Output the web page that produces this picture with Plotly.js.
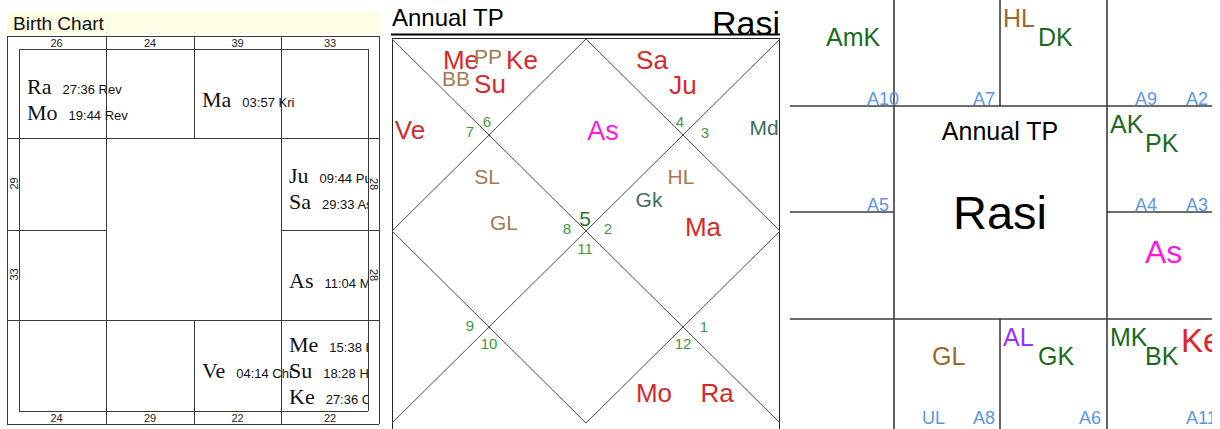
<!DOCTYPE html>
<html><head><meta charset="utf-8">
<script src="https://cdn.plot.ly/plotly-3.0.1.min.js"></script>
<style>html,body{margin:0;padding:0;background:#fff}#chart{width:1220px;height:429px}</style>
</head><body><div id="chart"></div>
<script>
// ================= DATA =================
// Birth chart (South Indian). Signs: 1 = Aries ... 12 = Pisces
const birthPlanets    = ['Ra','Mo','Ma','Ju','Sa','As','Me','Su','Ke','Ve'];
const birthDegrees    = ['27:36','19:44','03:57','09:44','29:33','11:04','15:38','18:28','27:36','04:14'];
const birthNakshatras = ['Rev','Rev','Kri','Pus','Asl','Mag','Has','Has','Chi','Chi'];
const birthSigns      = [12,12,2,4,4,5,6,6,6,7];
// Sarvashtakavarga points per sign (Aries..Pisces)
const savSigns  = [1,2,3,4,5,6,7,8,9,10,11,12];
const savPoints = [24,39,33,28,28,22,22,29,24,33,29,26];

// Annual TP Rasi (North Indian)
const rasiAscSign = 5;
const rasiLabels = ['Me','PP','Ke','BB','Su','Sa','Ju','Ve','As','Md','SL','GL','HL','Gk','Ma','Mo','Ra'];
const rasiSigns  = [6,6,6,6,6,4,4,7,5,3,8,8,2,2,2,12,12];
const rasiKinds  = ['planet','special','planet','special','planet','planet','planet','planet','asc','upagraha','special','special','special','upagraha','planet','planet','planet'];

// Annual TP Rasi (South Indian) – karakas, lagnas, arudhas
const karakaLabels = ['AmK','HL','DK','AK','PK','As','AL','GK','GL','MK','BK','Ke'];
const karakaSigns  = [12,2,2,4,4,5,7,7,8,6,6,6];
const karakaKinds  = ['karaka','special','karaka','karaka','karaka','asc','arudhaLagna','karaka','special','karaka','karaka','planet'];
const arudhaLabels = ['A10','A7','A9','A2','A5','A4','A3','UL','A8','A6','A11'];
const arudhaSigns  = [12,1,3,3,11,4,4,8,8,7,6];

// ================= LAYOUT / STYLE =================
const NARROW = "Liberation Sans, Arial, sans-serif";
const SANS   = "Liberation Sans, Arial, sans-serif";
const SERIF  = "Liberation Serif, Times New Roman, serif";
// South Indian cell (col,row) for each sign
const southCell = {12:[0,0],1:[1,0],2:[2,0],3:[3,0],4:[3,1],5:[3,2],6:[3,3],7:[2,3],8:[1,3],9:[0,3],10:[0,2],11:[0,1]};

const traces = [];
const annotations = [];
function lines(segs, color, width) {
  const x = [], y = [];
  segs.forEach(s => { x.push(s[0], s[2], null); y.push(s[1], s[3], null); });
  traces.push({type:'scatter', mode:'lines', x, y, xaxis:'x', yaxis:'y',
    line:{color, width}, hoverinfo:'skip', showlegend:false, cliponaxis:false});
}
function label(x, y, text, size, color, family, pos, xa) {
  traces.push({type:'scatter', mode:'text', x:[x], y:[y], text:[text],
    textposition: pos || 'middle center', textfont:{size, color, family},
    xaxis: xa || 'x', yaxis:'y', hoverinfo:'skip', showlegend:false, cliponaxis:true});
}
// y for a label whose cap-height centre should be at yc (plotly 'middle' puts baseline at y+0.25*fs)
const capY = (yc, fs) => yc + 0.11 * fs;

// ---------- Panel 1: Birth Chart ----------
const BX = [19,106,194,281,368], BY = [49,138,230,320,411];
const BO = {l:7, r:379, t:36, b:424};
traces.push({type:'scatter', mode:'lines', x:[7,380,380,7,7], y:[12,12,34,34,12], fill:'toself',
  fillcolor:'#fffde1', line:{width:0, color:'#fffde1'}, xaxis:'x', yaxis:'y', hoverinfo:'skip', showlegend:false});
label(13, capY(23.5, 19), 'Birth Chart', 19, '#111', SANS, 'middle right');
{
  const s = [];
  const h = v => v + 0.5;
  s.push([BO.l,h(BO.t),BO.r,h(BO.t)],[BO.l,h(BO.b),BO.r,h(BO.b)],[h(BO.l),BO.t,h(BO.l),BO.b],[h(BO.r),BO.t,h(BO.r),BO.b]);
  s.push([BX[0],h(BY[0]),BX[4],h(BY[0])],[BX[0],h(BY[4]),BX[4],h(BY[4])],[h(BX[0]),BY[0],h(BX[0]),BY[4]],[h(BX[4]),BY[0],h(BX[4]),BY[4]]);
  s.push([h(BX[1]),BO.t,h(BX[1]),BO.b],[h(BX[3]),BO.t,h(BX[3]),BO.b]);
  s.push([h(BX[2]),BO.t,h(BX[2]),BY[1]],[h(BX[2]),BY[3],h(BX[2]),BO.b]);
  s.push([BO.l,h(BY[1]),BO.r,h(BY[1])],[BO.l,h(BY[3]),BO.r,h(BY[3])]);
  s.push([BO.l,h(BY[2]),BX[1],h(BY[2])],[BX[3],h(BY[2]),BO.r,h(BY[2])]);
  lines(s, '#3a3a3a', 1);
}
// SAV numbers in the outer strip
savSigns.forEach((sg, k) => {
  const [c, r] = southCell[sg];
  const txt = String(savPoints[k]);
  if (r === 0 || r === 3) {
    const x0 = c === 0 ? BO.l : BX[c], x1 = c === 3 ? BO.r : BX[c+1];
    const y = r === 0 ? (BO.t + BY[0]) / 2 : (BY[4] + BO.b) / 2;
    label((x0 + x1) / 2, capY(y + 0.5, 11), txt, 11, '#222', SANS);
  } else {
    const y = (BY[r] + BY[r+1]) / 2;
    const left = c === 0;
    annotations.push({x: left ? (BO.l + BX[0]) / 2 + 0.5 : (BX[4] + BO.r) / 2 + 0.5, y, xref:'x', yref:'y',
      text: txt, showarrow:false, textangle: left ? -90 : 90,
      font:{size:11, color:'#222', family:SANS}, xanchor:'center', yanchor:'middle'});
  }
});
// planets
{
  const bySign = {};
  birthSigns.forEach((sg, k) => { (bySign[sg] = bySign[sg] || []).push(k); });
  Object.keys(bySign).forEach(sg => {
    const idx = bySign[sg], n = idx.length;
    const [c, r] = southCell[sg];
    idx.forEach((k, i) => {
      const base = BY[r] + 58 + (i - (n - 1) / 2) * 26;
      const txt = birthPlanets[k] + '\u00a0\u00a0' +
        "<span style='font-family:Liberation Sans, Arial, sans-serif;font-size:13px'>" +
        birthDegrees[k] + ' ' + birthNakshatras[k] + '</span>';
      label(BX[c] + 8, base - 0.25 * 22, txt, 22, '#111', SERIF, 'middle right', 'x2');
    });
  });
}

// ---------- Panel 2: Annual TP Rasi (North Indian) ----------
const ML = 392, MT = 39, MR = 780, MB = 423, MC = (ML + MR) / 2, MM = (MT + MB) / 2;
label(392, capY(17.5, 24), 'Annual TP', 24, '#000', NARROW, 'middle right');
label(780, capY(22.5, 34), 'Rasi', 34, '#000', NARROW, 'middle left');
lines([[391,34.5,780,34.5]], '#000', 2);
lines([[ML,38.5,MR,38.5],[ML+0.5,MT,ML+0.5,429],[MR-0.5,MT,MR-0.5,429]], '#222', 1);
lines([[ML,MT,MR,MB],[MR,MT,ML,MB],[MC,MT,MR,MM],[MR,MM,MC,MB],[MC,MB,ML,MM],[ML,MM,MC,MT]], '#4a4a4a', 1);
// sign number position of each house, chart-local pixels
const houseNumPos = {1:[193,179],2:[95,83],3:[78,93],4:[175,190],5:[78,287],6:[97,305],
  7:[193,210],8:[291,305],9:[312,288],10:[216,190],11:[313,94],12:[288,83]};
for (let hse = 1; hse <= 12; hse++) {
  const sign = ((rasiAscSign - 1 + hse - 1) % 12) + 1;
  const [dx, dy] = houseNumPos[hse];
  const asc = hse === 1;
  const fs = asc ? 21 : 15;
  label(ML + dx, capY(MT + dy, fs), String(sign), fs, asc ? '#2a7a2a' : '#3c9a3c', NARROW);
}
// label placement inside houses, chart-local pixels (layout only)
const rasiSlots = [[69,21],[96,17],[130,21],[64,39],[98,45],[260,21],[291,46],[18,91],[211,91],[372,88],
  [95,137],[112,183],[289,137],[257,160],[311,188],[262,354],[325,354]];
const rasiStyle = {planet:[26,'#d42a2a'], special:[21,'#a47a50'], upagraha:[21,'#3f6e58'], asc:[27,'#ff1ad9']};
rasiLabels.forEach((lb, k) => {
  const [fs, col] = rasiStyle[rasiKinds[k]];
  const [dx, dy] = rasiSlots[k];
  label(ML + dx, capY(MT + dy, fs), lb, fs, col, NARROW);
});

// ---------- Panel 3: Annual TP Rasi (South Indian, karakas) ----------
const RX = [788,894,1000,1107,1213], RY = [0,106,212,319,425];
const RL = 790, RR = 1212;
lines([[RL,RY[1],RR,RY[1]],[RL,RY[3],RR,RY[3]],[RL,RY[2],RX[1],RY[2]],[RX[3],RY[2],RR,RY[2]],
  [RX[1],0,RX[1],429],[RX[3],0,RX[3],429],[RX[2],0,RX[2],RY[1]],[RX[2],RY[3],RX[2],429]], '#3c3c3c', 1.6);
label(1000, capY(131, 25), 'Annual TP', 25, '#000', NARROW);
label(1000, capY(212, 47), 'Rasi', 47, '#000', NARROW);
const karakaStyle = {karaka:[25,'#1b6b1b'], special:[25,'#9b6a30'], asc:[32,'#ff1ad9'], arudhaLagna:[25,'#9933ff'], planet:[33,'#e0252a']};
const karakaSlotsXY = [[3,9],[38,28],[74,9]];
{
  const bySign = {};
  karakaSigns.forEach((sg, k) => { (bySign[sg] = bySign[sg] || []).push(k); });
  Object.keys(bySign).forEach(sg => {
    const idx = bySign[sg], n = idx.length;
    const [c, r] = southCell[sg];
    idx.forEach((k, i) => {
      const [fs, col] = karakaStyle[karakaKinds[k]];
      const [sx, sy] = karakaSlotsXY[n === 1 ? 1 : i];
      const top = RY[r] + sy;
      label(RX[c] + sx, top + 0.466 * fs, karakaLabels[k], fs, col, NARROW, 'middle right', 'x3');
    });
  });
  const aBySign = {};
  arudhaSigns.forEach((sg, k) => { (aBySign[sg] = aBySign[sg] || []).push(k); });
  const aSlots = [28, 79];
  Object.keys(aBySign).forEach(sg => {
    const idx = aBySign[sg], n = idx.length;
    const [c, r] = southCell[sg];
    idx.forEach((k, i) => {
      const sx = aSlots[aSlots.length - n + i];
      label(RX[c] + sx, RY[r + 1] - 0.25 * 18 - 1, arudhaLabels[k], 18, '#5b96e8', NARROW, 'middle right', 'x3');
    });
  });
}

const layout = {
  width:1220, height:429, margin:{l:0,r:0,t:0,b:0,pad:0},
  paper_bgcolor:'#ffffff', plot_bgcolor:'rgba(0,0,0,0)', showlegend:false,
  xaxis:{domain:[0,1], range:[0,1220], visible:false, fixedrange:true},
  yaxis:{domain:[0,1], range:[429,0], visible:false, fixedrange:true},
  xaxis2:{domain:[0,368/1220], range:[0,368], anchor:'y', visible:false, fixedrange:true},
  xaxis3:{domain:[788/1220,1212/1220], range:[788,1212], anchor:'y', visible:false, fixedrange:true},
  annotations
};
Plotly.newPlot('chart', traces, layout, {staticPlot:true, displayModeBar:false});
</script></body></html>
